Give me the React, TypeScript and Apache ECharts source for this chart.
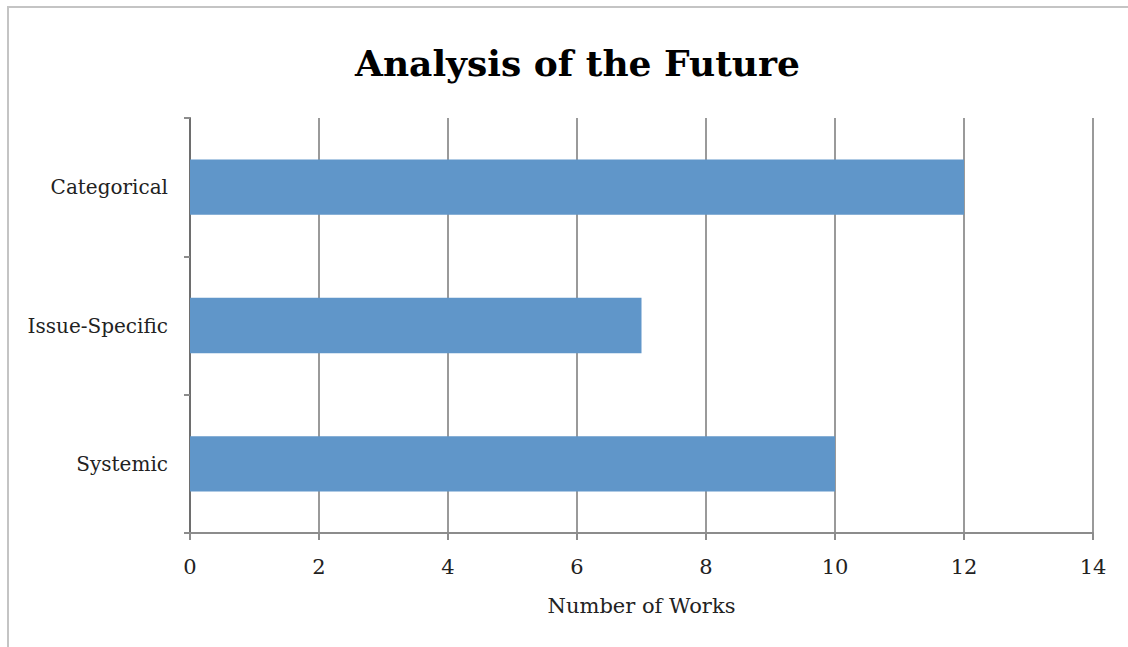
import React, { useEffect, useRef } from "react";
import * as echarts from "echarts";

const categories = ["Categorical", "Issue-Specific", "Systemic"];
const works = [12, 7, 10];
const xTicks = { min: 0, max: 14, interval: 2 };
const titleText = "Analysis of the Future";
const xAxisName = "Number of Works";

export default function App() {
  const ref = useRef<HTMLDivElement>(null);
  useEffect(() => {
    if (!ref.current) return;
    const chart = echarts.init(ref.current, null, { renderer: "svg" });
    const font = "'DejaVu Serif', 'Liberation Serif', serif";
    chart.setOption({
      animation: false,
      backgroundColor: "#ffffff",
      title: {
        text: titleText,
        left: 350,
        top: 40,
        textStyle: { fontFamily: font, fontSize: 36, fontWeight: "bold", color: "#000" },
      },
      graphic: [
        {
          type: "rect",
          shape: { x: 8, y: 7, width: 3000, height: 3000 },
          style: { fill: "none", stroke: "#c4c4c4", lineWidth: 2 },
          silent: true,
        },
      ],
      grid: { left: 190, right: 35, top: 118, bottom: 114 },
      xAxis: {
        type: "value",
        min: xTicks.min,
        max: xTicks.max,
        interval: xTicks.interval,
        name: xAxisName,
        nameLocation: "middle",
        nameGap: 62,
        nameTextStyle: { fontFamily: font, fontSize: 21, color: "#222" },
        axisLine: { show: true, lineStyle: { color: "#8c8c8c", width: 2 } },
        axisTick: { show: true, length: 7, lineStyle: { color: "#8c8c8c", width: 2 } },
        axisLabel: { fontFamily: font, fontSize: 21, color: "#222", margin: 23 },
        splitLine: { show: true, lineStyle: { color: "#9a9a9a", width: 2 } },
      },
      yAxis: {
        type: "category",
        data: categories,
        inverse: true,
        axisLine: { show: true, lineStyle: { color: "#6e6e6e", width: 2 } },
        axisTick: { show: true, length: 6, alignWithLabel: false, lineStyle: { color: "#8c8c8c", width: 2 } },
        axisLabel: { fontFamily: font, fontSize: 20, color: "#222", margin: 22 },
        splitLine: { show: false },
      },
      series: [
        {
          type: "bar",
          data: works,
          barWidth: "40%",
          itemStyle: { color: "#6096c9" },
        },
      ],
    });
    return () => chart.dispose();
  }, []);
  return (
    <div
      ref={ref}
      style={{ position: "absolute", left: 0, top: 0, width: 1128, height: 647 }}
    />
  );
}
